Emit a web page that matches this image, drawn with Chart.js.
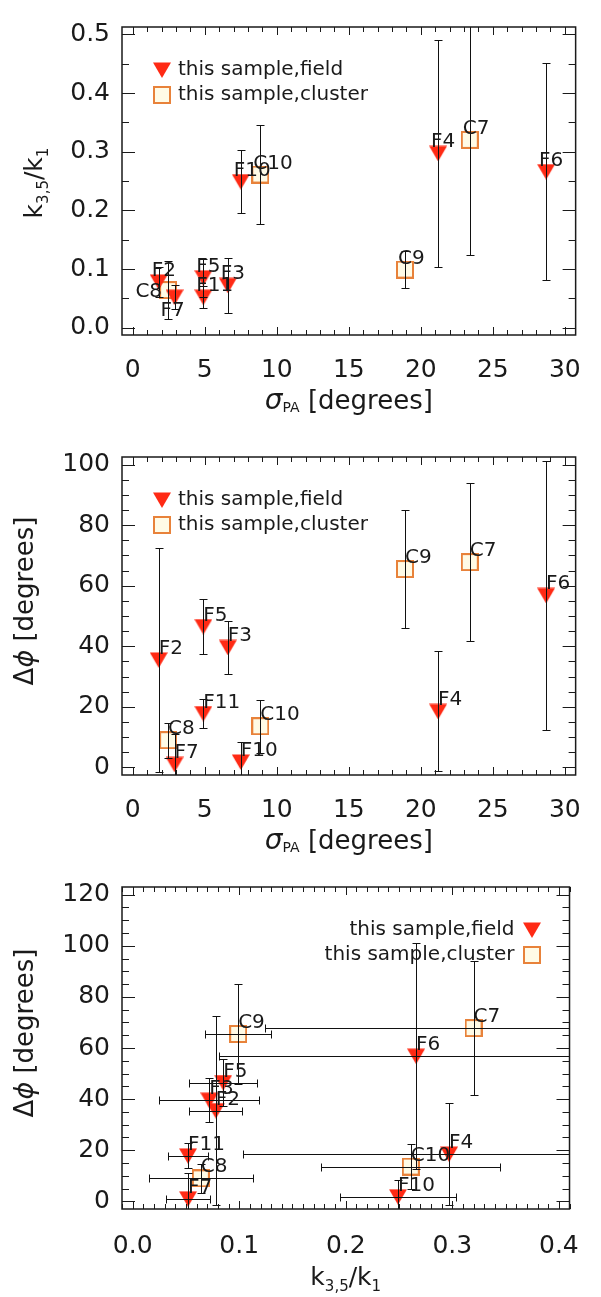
<!DOCTYPE html>
<html lang="en">
<head>
<meta charset="UTF-8">
<title>k3,5/k1 and Δφ against σPA</title>
<script src="https://cdn.jsdelivr.net/npm/chart.js@4.4.1/dist/chart.umd.min.js"></script>
<style>
  body { margin: 0; background: #fff; }
  .panel { position: absolute; left: 0; width: 601px; }
  canvas { display: block; }
</style>
</head>
<body>
<div class="panel" style="top:0"><canvas id="c1" width="601" height="430"></canvas></div>
<div class="panel" style="top:430px"><canvas id="c2" width="601" height="430"></canvas></div>
<div class="panel" style="top:860px"><canvas id="c3" width="601" height="437"></canvas></div>
<script>
// field galaxies
const fieldNames    = ['F2', 'F3', 'F4', 'F5', 'F6', 'F7', 'F10', 'F11'];
const fieldSigma    = [1.8, 6.6, 21.2, 4.9, 28.7, 2.9, 7.5, 4.9];
const fieldK        = [0.078, 0.072, 0.297, 0.085, 0.266, 0.052, 0.249, 0.052];
const fieldKErr     = [0.025, 0.047, 0.193, 0.032, 0.185, 0.021, 0.054, 0.019];
const fieldDphi     = [35.5, 39.6, 18.5, 46.5, 56.8, 1.0, 1.8, 17.8];
const fieldDphiErr  = [37, 8.7, 19.8, 9.2, 44.3, 10, 6.5, 4.9];

// cluster galaxies
const clusterNames   = ['C7', 'C8', 'C9', 'C10'];
const clusterSigma   = [23.4, 2.45, 18.9, 8.85];
const clusterK       = [0.320, 0.064, 0.099, 0.261];
const clusterKErr    = [0.196, 0.049, 0.031, 0.084];
const clusterDphi    = [67.8, 9.0, 65.5, 13.6];
const clusterDphiErr = [26.2, 5.8, 19.5, 8.8];

// tick labels
const sigmaTicks = [0, 5, 10, 15, 20, 25, 30];
const kTicks     = [0.0, 0.1, 0.2, 0.3, 0.4, 0.5];
const kTicksX    = [0.0, 0.1, 0.2, 0.3, 0.4];
const dphiTicks2 = [0, 20, 40, 60, 80, 100];
const dphiTicks3 = [0, 20, 40, 60, 80, 100, 120];

const FAM = '"DejaVu Sans", sans-serif';
const INK = '#1a1a1a';

// marker images (IDL style filled triangle / open square)
function triangleImg() {
  const c = document.createElement('canvas');
  c.width = 18; c.height = 16;
  const g = c.getContext('2d');
  g.fillStyle = '#ff2a14';
  g.beginPath(); g.moveTo(0, 0.5); g.lineTo(18, 0.5); g.lineTo(9, 16); g.closePath(); g.fill();
  return c;
}
function squareImg() {
  const c = document.createElement('canvas');
  c.width = 18; c.height = 18;
  const g = c.getContext('2d');
  g.fillStyle = '#fffbe6'; g.fillRect(1, 1, 16, 16);
  g.strokeStyle = '#e8823a'; g.lineWidth = 2; g.strokeRect(1, 1, 16, 16);
  return c;
}
const TRI = triangleImg();
const SQR = squareImg();

function points(names, xs, ys, xe, ye) {
  return names.map((n, i) => ({
    x: xs[i], y: ys[i], label: n,
    xErr: xe ? xe[i] : null, yErr: ye ? ye[i] : null
  }));
}

// rich text: parts = [{t, size, dy, italic, weight}]
function fontOf(p) {
  return (p.italic ? 'italic ' : '') + (p.weight || 'normal') + ' ' + p.size + 'px ' + FAM;
}
function rich(ctx, parts, cx, cy, rotate) {
  ctx.save();
  ctx.translate(cx, cy);
  if (rotate) ctx.rotate(-Math.PI / 2);
  let w = 0;
  parts.forEach(p => { ctx.font = fontOf(p); w += ctx.measureText(p.t).width; });
  let x = -w / 2;
  ctx.fillStyle = INK;
  ctx.textAlign = 'left';
  ctx.textBaseline = 'alphabetic';
  parts.forEach(p => {
    ctx.font = fontOf(p);
    ctx.fillText(p.t, x, p.dy || 0);
    x += ctx.measureText(p.t).width;
  });
  ctx.restore();
}

const kTitle = [
  { t: 'k', size: 25 }, { t: '3,5', size: 15, dy: 6 },
  { t: '/k', size: 25 }, { t: '1', size: 15, dy: 6 }
];
const sigmaTitle = [
  { t: 'σ', size: 28, italic: true }, { t: 'PA', size: 14, dy: 3 },
  { t: ' [degrees]', size: 26 }
];
const dphiTitle = [
  { t: 'Δ', size: 26 }, { t: 'ϕ', size: 27, italic: true },
  { t: ' [degrees]', size: 26 }
];

function drawTicks(ctx, a, scale, majors, minorStep, horiz) {
  const vals = [];
  majors.forEach(v => vals.push([v, true]));
  const k0 = Math.ceil(scale.min / minorStep - 1e-9), k1 = Math.floor(scale.max / minorStep + 1e-9);
  for (let k = k0; k <= k1; k++) {
    const v = k * minorStep;
    if (!majors.some(m => Math.abs(m - v) < minorStep / 10)) vals.push([v, false]);
  }
  ctx.beginPath();
  vals.forEach(([v, major]) => {
    const p = Math.round(scale.getPixelForValue(v)) + 0.5;
    if (horiz) {
      const len = major ? 8 : 5;
      ctx.moveTo(p, a.bottom); ctx.lineTo(p, a.bottom - len);
      ctx.moveTo(p, a.top); ctx.lineTo(p, a.top + len);
    } else {
      const len = major ? 13 : 7;
      ctx.moveTo(a.left, p); ctx.lineTo(a.left + len, p);
      ctx.moveTo(a.right, p); ctx.lineTo(a.right - len, p);
    }
  });
  ctx.stroke();
}

const errorBars = {
  id: 'errorBars',
  afterDatasetsDraw(chart) {
    const { ctx, chartArea: a, scales: { x, y } } = chart;
    ctx.save();
    ctx.beginPath(); ctx.rect(a.left, a.top, a.width, a.height); ctx.clip();
    ctx.strokeStyle = '#111';
    ctx.lineWidth = 1;
    chart.data.datasets.forEach(ds => {
      ds.data.forEach(p => {
        const px = Math.round(x.getPixelForValue(p.x)) + 0.5;
        const py = Math.round(y.getPixelForValue(p.y)) + 0.5;
        ctx.beginPath();
        if (p.yErr != null) {
          const y0 = Math.round(y.getPixelForValue(p.y - p.yErr)) + 0.5;
          const y1 = Math.round(y.getPixelForValue(p.y + p.yErr)) + 0.5;
          ctx.moveTo(px, y0); ctx.lineTo(px, y1);
          ctx.moveTo(px - 4, y0); ctx.lineTo(px + 4, y0);
          ctx.moveTo(px - 4, y1); ctx.lineTo(px + 4, y1);
        }
        if (p.xErr != null) {
          const x0 = Math.round(x.getPixelForValue(p.x - p.xErr)) + 0.5;
          const x1 = Math.round(x.getPixelForValue(p.x + p.xErr)) + 0.5;
          ctx.moveTo(x0, py); ctx.lineTo(x1, py);
          ctx.moveTo(x0, py - 4); ctx.lineTo(x0, py + 4);
          ctx.moveTo(x1, py - 4); ctx.lineTo(x1, py + 4);
        }
        ctx.stroke();
      });
    });
    ctx.restore();
  }
};

const frame = {
  id: 'frame',
  afterDraw(chart, args, o) {
    const { ctx, chartArea: a, scales: { x, y } } = chart;
    ctx.save();
    ctx.strokeStyle = INK;
    ctx.lineWidth = 1;
    drawTicks(ctx, a, x, o.xTicks, o.xMinor, true);
    drawTicks(ctx, a, y, o.yTicks, o.yMinor, false);
    ctx.lineWidth = 1.5;
    ctx.strokeRect(a.left, a.top, a.right - a.left, a.bottom - a.top);

    // point labels
    ctx.fillStyle = INK;
    ctx.font = '20px ' + FAM;
    ctx.textBaseline = 'alphabetic';
    chart.data.datasets.forEach(ds => {
      ds.data.forEach(p => {
        const px = x.getPixelForValue(p.x), py = y.getPixelForValue(p.y);
        const off = (o.labelOffsets && o.labelOffsets[p.label]) || [o.labelDx, -6, 'left'];
        ctx.textAlign = off[2];
        ctx.fillText(p.label, px + off[0], py + off[1]);
      });
    });

    // legend
    const rows = [[TRI, chart.data.datasets[0].label], [SQR, chart.data.datasets[1].label]];
    rows.forEach((r, i) => {
      const ry = a.top + 43 + i * 25;
      const mx = o.legendRight ? a.right - 38 : a.left + 40;
      ctx.drawImage(r[0], Math.round(mx - r[0].width / 2), Math.round(ry - r[0].height / 2));
      ctx.textBaseline = 'middle';
      ctx.font = '20px ' + FAM;
      if (o.legendRight) { ctx.textAlign = 'right'; ctx.fillText(r[1], mx - 17, ry); }
      else { ctx.textAlign = 'left'; ctx.fillText(r[1], mx + 16, ry); }
    });

    // axis titles
    const cx = (a.left + a.right) / 2;
    rich(ctx, o.xTitle, cx, a.bottom + o.xTitleDy, false);
    rich(ctx, o.yTitle, o.yTitleX, (a.top + a.bottom) / 2 + o.yTitleDy, true);
    ctx.restore();
  }
};

function makePanel(id, c) {
  return new Chart(document.getElementById(id), {
    type: 'scatter',
    data: {
      datasets: [
        { label: 'this sample,field', data: c.field, pointStyle: TRI, pointRadius: 9 },
        { label: 'this sample,cluster', data: c.cluster, pointStyle: SQR, pointRadius: 9 }
      ]
    },
    options: {
      responsive: false,
      animation: false,
      layout: { padding: { top: c.top, right: 11, left: 0, bottom: 0 } },
      plugins: {
        legend: { display: false },
        tooltip: { enabled: false },
        frame: {
          xTicks: c.xTicks, yTicks: c.yTicks, xMinor: c.xMinor, yMinor: c.yMinor,
          xTitle: c.xTitle, yTitle: c.yTitle, xTitleDy: c.xTitleDy,
          yTitleX: c.yTitleX, yTitleDy: c.yTitleDy,
          legendRight: c.legendRight, labelDx: c.labelDx, labelOffsets: c.labelOffsets
        }
      },
      scales: {
        x: {
          type: 'linear', min: c.xMin, max: c.xMax,
          grid: { display: false, drawTicks: false }, border: { display: false },
          afterBuildTicks: s => { s.ticks = c.xTicks.map(v => ({ value: v })); },
          afterFit: s => { s.height = c.xAxisH; },
          ticks: { padding: c.xPad, color: INK, font: { family: FAM, size: 25 },
                   maxRotation: 0, autoSkip: false, callback: c.xFmt }
        },
        y: {
          type: 'linear', min: c.yMin, max: c.yMax,
          grid: { display: false, drawTicks: false }, border: { display: false },
          afterBuildTicks: s => { s.ticks = c.yTicks.map(v => ({ value: v })); },
          afterFit: s => { s.width = 122; },
          ticks: { padding: 12, color: INK, font: { family: FAM, size: 25 },
                   autoSkip: false, callback: c.yFmt }
        }
      }
    },
    plugins: [errorBars, frame]
  });
}

const fmt1 = v => v.toFixed(1);
const fmt0 = v => String(v);

// panel 1: k3,5/k1 vs sigma_PA
makePanel('c1', {
  field: points(fieldNames, fieldSigma, fieldK, null, fieldKErr),
  cluster: points(clusterNames, clusterSigma, clusterK, null, clusterKErr),
  top: 5, xAxisH: 95, xPad: 20,
  xMin: -0.75, xMax: 30.75, yMin: -0.0125, yMax: 0.5125,
  xTicks: sigmaTicks, yTicks: kTicks, xMinor: 1, yMinor: 0.05,
  xFmt: fmt0, yFmt: fmt1,
  xTitle: sigmaTitle, yTitle: kTitle, xTitleDy: 74, yTitleX: 42, yTitleDy: 2,
  labelDx: -7,
  labelOffsets: { C8: [-6, 7, 'right'], F7: [-14, 19, 'left'] }
});

// panel 2: delta phi vs sigma_PA
makePanel('c2', {
  field: points(fieldNames, fieldSigma, fieldDphi, null, fieldDphiErr),
  cluster: points(clusterNames, clusterSigma, clusterDphi, null, clusterDphiErr),
  top: 15, xAxisH: 85, xPad: 20,
  xMin: -0.75, xMax: 30.75, yMin: -2.5, yMax: 102.5,
  xTicks: sigmaTicks, yTicks: dphiTicks2, xMinor: 1, yMinor: 5,
  xFmt: fmt0, yFmt: fmt0,
  xTitle: sigmaTitle, yTitle: dphiTitle, xTitleDy: 74, yTitleX: 33, yTitleDy: -15,
  labelDx: 0
});

// panel 3: delta phi vs k3,5/k1
makePanel('c3', {
  field: points(fieldNames, fieldK, fieldDphi, fieldKErr, fieldDphiErr),
  cluster: points(clusterNames, clusterK, clusterDphi, clusterKErr, clusterDphiErr),
  top: 19, xAxisH: 88, xPad: 22,
  xMin: -0.01, xMax: 0.41, yMin: -3, yMax: 123,
  xTicks: kTicksX, yTicks: dphiTicks3, xMinor: 0.01, yMinor: 5,
  xFmt: fmt1, yFmt: fmt0,
  xTitle: kTitle, yTitle: dphiTitle, xTitleDy: 76, yTitleX: 33, yTitleDy: -15,
  labelDx: 0, legendRight: true
});
</script>
</body>
</html>
